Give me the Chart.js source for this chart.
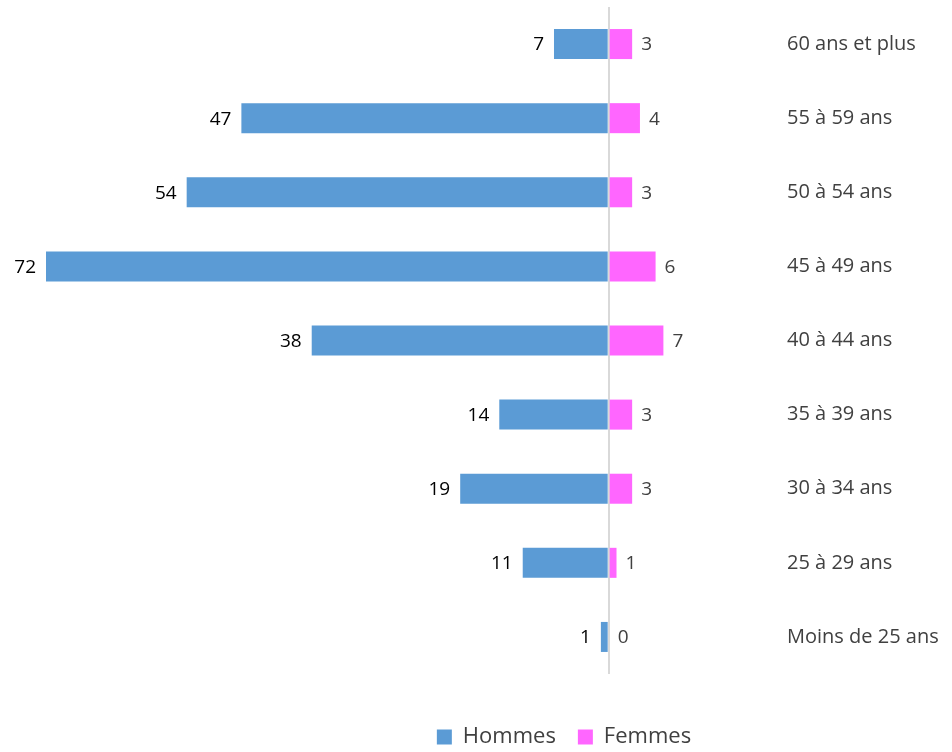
<!DOCTYPE html>
<html>
<head>
<meta charset="utf-8">
<script src="https://cdn.jsdelivr.net/npm/chart.js@4"></script>
<style>
  html, body { margin: 0; padding: 0; background: #fff; }
  #wrap { width: 952px; height: 752px; }
</style>
</head>
<body>
<div id="wrap"><canvas id="pyramide"></canvas></div>
<script>
// Tranches d'âge, du haut vers le bas
var tranches = ['60 ans et plus', '55 à 59 ans', '50 à 54 ans', '45 à 49 ans', '40 à 44 ans',
                '35 à 39 ans', '30 à 34 ans', '25 à 29 ans', 'Moins de 25 ans'];
var hommes = [7, 47, 54, 72, 38, 14, 19, 11, 1];
var femmes = [3, 4, 3, 6, 7, 3, 3, 1, 0];

var police = "'Open Sans', sans-serif";

// Valeurs écrites à côté des barres
var etiquettes = {
    id: 'etiquettes',
    afterDatasetsDraw: function(chart) {
        var ctx = chart.ctx;
        var x = chart.scales.x;
        ctx.save();
        ctx.font = '19px ' + police;
        ctx.textBaseline = 'middle';
        chart.getDatasetMeta(0).data.forEach(function(bar, j) {
            ctx.fillStyle = '#000000';
            ctx.textAlign = 'right';
            ctx.fillText(hommes[j], x.getPixelForValue(-hommes[j]) - 10, bar.y + 1);
        });
        chart.getDatasetMeta(1).data.forEach(function(bar, j) {
            ctx.fillStyle = '#404040';
            ctx.textAlign = 'left';
            ctx.fillText(femmes[j], x.getPixelForValue(femmes[j]) + 9, bar.y + 1);
        });
        ctx.restore();
    }
};

// la légende est un peu décalée vers la droite
var decaleLegende = {
    id: 'decaleLegende',
    afterLayout: function(chart) {
        if (chart.legend) chart.legend.left += 130;
    }
};

new Chart(document.getElementById('pyramide'), {
    type: 'bar',
    data: {
        labels: tranches,
        datasets: [
            { label: 'Hommes', data: hommes.map(function(v) { return -v; }), backgroundColor: '#5B9BD5' },
            { label: 'Femmes', data: femmes, backgroundColor: '#FF66FF' }
        ]
    },
    options: {
        indexAxis: 'y',
        responsive: true,
        maintainAspectRatio: false,
        animation: false,
        barPercentage: 0.5,
        categoryPercentage: 0.81,
        layout: { padding: { left: 46, right: 0, top: 7, bottom: -6 } },
        plugins: {
            legend: {
                position: 'bottom',
                labels: {
                    font: { family: police, size: 22 },
                    color: '#404040',
                    boxWidth: 15,
                    boxHeight: 15,
                    padding: 22
                }
            },
            tooltip: { enabled: false }
        },
        scales: {
            x: {
                stacked: true,
                min: -72,
                max: 20,
                ticks: { display: false },
                border: { display: false },
                grid: {
                    drawTicks: false,
                    lineWidth: 2,
                    color: function(c) { return c.tick && c.tick.value === 0 ? '#D9D9D9' : 'rgba(0,0,0,0)'; }
                },
                afterFit: function(scale) { scale.height = 30; }
            },
            y: {
                stacked: true,
                position: 'right',
                border: { display: false },
                grid: { display: false },
                ticks: {
                    padding: 14,
                    color: '#404040',
                    font: { family: police, size: 20 }
                },
                afterFit: function(scale) {
                    scale.width = 187;
                    scale.paddingTop = 0;
                    scale.paddingBottom = 0;
                }
            }
        }
    },
    plugins: [etiquettes, decaleLegende]
});
</script>
</body>
</html>
